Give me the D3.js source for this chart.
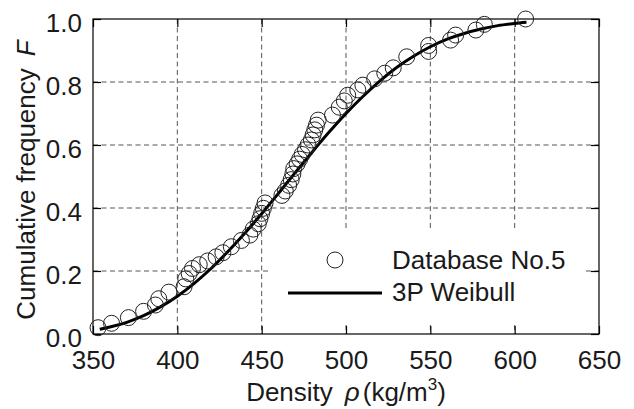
<!DOCTYPE html>
<html>
<head>
<meta charset="utf-8">
<script src="https://cdn.jsdelivr.net/npm/d3@7"></script>
<style>
  body { margin: 0; background: #fff; }
  svg { font-family: "Liberation Sans", Arial, sans-serif; }
</style>
</head>
<body>
<div id="chart"></div>
<script>
// tick values
const xTicks = [350, 400, 450, 500, 550, 600, 650];
const yTicks = [0, 0.2, 0.4, 0.6, 0.8, 1.0];

// Database No.5 : density / cumulative frequency
const obsDensity = [353, 361, 371, 380, 387, 389, 395, 404, 405, 407, 409, 413, 418, 423, 427,
  432, 438, 443, 445, 448, 449, 450, 451, 452, 462, 464, 466, 467.5, 468.5, 469, 471, 472.5,
  474, 476, 477.5, 479.5, 480.5, 481.5, 482.5, 483.5, 492, 496, 499, 501, 507, 510, 517, 523,
  528, 536, 549, 549, 562, 565, 577, 582, 606.5];
const obsFreq = [0.02, 0.034, 0.052, 0.072, 0.092, 0.112, 0.133, 0.15, 0.175, 0.192, 0.208,
  0.22, 0.232, 0.245, 0.258, 0.277, 0.297, 0.314, 0.333, 0.35, 0.366, 0.383, 0.399, 0.416,
  0.44, 0.454, 0.472, 0.49, 0.508, 0.525, 0.54, 0.555, 0.57, 0.585, 0.6, 0.616, 0.632, 0.648,
  0.663, 0.679, 0.695, 0.72, 0.74, 0.758, 0.775, 0.79, 0.81, 0.828, 0.845, 0.88, 0.897, 0.916,
  0.933, 0.949, 0.965, 0.983, 1.0];

// 3P Weibull curve
const fitDensity = [354, 360, 370, 380, 390, 400, 410, 420, 430, 440, 450, 460, 470, 480, 490,
  500, 510, 520, 530, 540, 550, 560, 570, 580, 590, 600, 607];
const fitFreq = [0.015, 0.022, 0.037, 0.058, 0.086, 0.12, 0.161, 0.208, 0.262, 0.32, 0.382,
  0.447, 0.513, 0.578, 0.641, 0.7, 0.754, 0.803, 0.846, 0.882, 0.912, 0.936, 0.954, 0.968,
  0.979, 0.986, 0.99];

const legendLabels = ["Database No.5", "3P Weibull"];

const margin = { top: 19, right: 35, bottom: 75, left: 93 };
const width = 634 - margin.left - margin.right;
const height = 409 - margin.top - margin.bottom;
const fontSize = 26;
const ink = "#1a1a1a";

const svg = d3.select("#chart")
  .append("svg")
  .attr("width", 634)
  .attr("height", 409);

const g = svg.append("g")
  .attr("transform", `translate(${margin.left},${margin.top})`);

const xScale = d3.scaleLinear().domain([350, 650]).range([0, width]);
const yScale = d3.scaleLinear().domain([0, 1]).range([height, 0]);

// dashed grid
const grid = g.append("g")
  .attr("stroke", "#555")
  .attr("stroke-width", 1)
  .attr("stroke-dasharray", "5,3.5");

grid.selectAll(".gx")
  .data(xTicks.slice(1, -1))
  .enter().append("line")
  .attr("x1", d => xScale(d)).attr("x2", d => xScale(d))
  .attr("y1", 0).attr("y2", height);

grid.selectAll(".gy")
  .data(yTicks.slice(1, -1))
  .enter().append("line")
  .attr("x1", 0).attr("x2", width)
  .attr("y1", d => yScale(d)).attr("y2", d => yScale(d));

// legend background hides the grid behind it
g.append("rect")
  .attr("x", 175).attr("y", 211)
  .attr("width", 317).attr("height", 93)
  .attr("fill", "#fff");

// axes (ticks point inward)
const tickLen = 8;
const bottomAxis = g.append("g")
  .attr("transform", `translate(0,${height})`)
  .call(d3.axisBottom(xScale).tickValues(xTicks).tickSizeInner(-tickLen).tickSizeOuter(0));
const topAxis = g.append("g")
  .call(d3.axisTop(xScale).tickValues(xTicks).tickSizeInner(-tickLen).tickSizeOuter(0).tickFormat(""));
const leftAxis = g.append("g")
  .call(d3.axisLeft(yScale).tickValues(yTicks).tickSizeInner(-tickLen).tickSizeOuter(0)
    .tickFormat(d3.format(".1f")));
const rightAxis = g.append("g")
  .attr("transform", `translate(${width},0)`)
  .call(d3.axisRight(yScale).tickValues(yTicks).tickSizeInner(-tickLen).tickSizeOuter(0).tickFormat(""));

[bottomAxis, topAxis, leftAxis, rightAxis].forEach(a => {
  a.select(".domain").remove();
  a.selectAll("line").attr("stroke", "#000").attr("stroke-width", 1.2);
});

bottomAxis.selectAll("text")
  .attr("y", 35).attr("dy", null)
  .attr("font-size", fontSize).attr("fill", ink);

leftAxis.selectAll("text")
  .attr("x", -11).attr("dy", null).attr("y", 12.5)
  .attr("font-size", fontSize).attr("fill", ink);

// frame
g.append("rect")
  .attr("width", width).attr("height", height)
  .attr("fill", "none").attr("stroke", "#000").attr("stroke-width", 1.2);

// fitted curve
const line = d3.line()
  .x((d, i) => xScale(fitDensity[i]))
  .y((d, i) => yScale(fitFreq[i]))
  .curve(d3.curveMonotoneX);

g.append("path")
  .datum(fitFreq)
  .attr("d", line)
  .attr("fill", "none")
  .attr("stroke", "#000")
  .attr("stroke-width", 3);

// observations
g.append("g").selectAll("circle")
  .data(obsFreq)
  .enter().append("circle")
  .attr("cx", (d, i) => xScale(obsDensity[i]))
  .attr("cy", d => yScale(d))
  .attr("r", 8)
  .attr("fill", "none")
  .attr("stroke", "#222")
  .attr("stroke-width", 1);

// legend
const legend = g.append("g");
legend.append("circle")
  .attr("cx", 242).attr("cy", 241).attr("r", 8)
  .attr("fill", "none").attr("stroke", "#222").attr("stroke-width", 1);
legend.append("line")
  .attr("x1", 195).attr("x2", 289).attr("y1", 274).attr("y2", 274)
  .attr("stroke", "#000").attr("stroke-width", 3);
legend.selectAll("text")
  .data(legendLabels)
  .enter().append("text")
  .attr("x", 299)
  .attr("y", (d, i) => 250 + i * 31.5)
  .attr("font-size", fontSize)
  .attr("fill", ink)
  .text(d => d);

// axis titles
const xTitle = svg.append("text")
  .attr("x", margin.left + width / 2)
  .attr("y", 401)
  .attr("text-anchor", "middle")
  .attr("font-size", fontSize)
  .attr("fill", ink);
xTitle.append("tspan").text("Density");
xTitle.append("tspan").attr("dx", 12).attr("font-style", "italic").text("ρ");
xTitle.append("tspan").attr("dx", 3).text("(kg/m");
xTitle.append("tspan").attr("dy", -11).attr("font-size", 17).text("3");
xTitle.append("tspan").attr("dy", 11).text(")");

const yTitle = svg.append("text")
  .attr("transform", "translate(35,180) rotate(-90)")
  .attr("text-anchor", "middle")
  .attr("font-size", fontSize)
  .attr("fill", ink);
yTitle.append("tspan").text("Cumulative frequency");
yTitle.append("tspan").attr("dx", 12).attr("font-style", "italic").text("F");
</script>
</body>
</html>
